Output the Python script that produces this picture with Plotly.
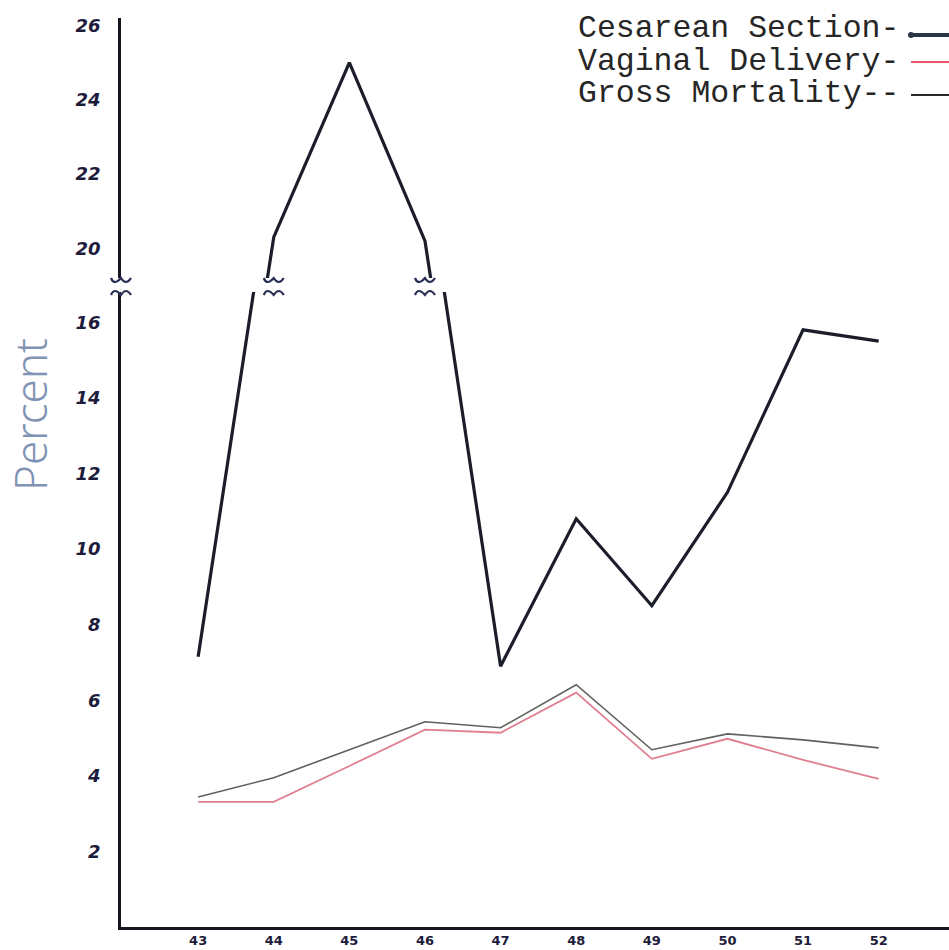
import plotly.graph_objects as go

# ---------------- data ----------------
years = [43, 44, 45, 46, 47, 48, 49, 50, 51, 52]
year_labels = ["43", "44", "45", "46", "47", "48", "49", "50", "51", "52"]
cesarean = [7.15, 20.3, 25.0, 20.2, 6.9, 10.8, 8.5, 11.5, 15.8, 15.5]
vaginal = [3.31, 3.31, 4.26, 5.22, 5.14, 6.20, 4.45, 4.98, 4.42, 3.92]
gross = [3.44, 3.95, 4.69, 5.43, 5.27, 6.41, 4.69, 5.11, 4.95, 4.74]
lower_ticks = [2, 4, 6, 8, 10, 12, 14, 16]
upper_ticks = [20, 22, 24, 26]
break_years = [44, 46]
legend_labels = ["Cesarean Section-", "Vaginal Delivery-", "Gross Mortality--"]

# ---------------- layout constants ----------------
W, H = 949, 950
ML, MR, MT, MB = 121, 0, 0, 23
PW, PH = W - ML - MR, H - MT - MB
XR = [41.98, 52.93]
LOW_R, LOW_D = [0, 16.8], [0, 0.685]
UP_R, UP_D = [19.2, 26.2], [0.700, 0.9806]

C_CES = "#1c1d2b"
C_VAG = "#df7f90"
C_GROSS = "#5f625c"
C_TICK = "#1e1c3c"

fig = go.Figure()

fig.add_trace(go.Scatter(x=years, y=cesarean, mode="lines", xaxis="x", yaxis="y",
                         line=dict(color=C_CES, width=3.2), showlegend=False))
fig.add_trace(go.Scatter(x=years, y=cesarean, mode="lines", xaxis="x", yaxis="y2",
                         line=dict(color=C_CES, width=3.2), showlegend=False))
fig.add_trace(go.Scatter(x=years, y=gross, mode="lines", xaxis="x", yaxis="y",
                         line=dict(color=C_GROSS, width=1.6), showlegend=False))
fig.add_trace(go.Scatter(x=years, y=vaginal, mode="lines", xaxis="x", yaxis="y",
                         line=dict(color=C_VAG, width=1.8), showlegend=False))

tick_font = dict(family="DejaVu Sans", size=18, color=C_TICK, weight="bold", style="italic")

fig.update_layout(
    width=W, height=H,
    margin=dict(l=ML, r=MR, t=MT, b=MB, autoexpand=False),
    paper_bgcolor="white", plot_bgcolor="white",
    xaxis=dict(range=XR, anchor="y", tickvals=years, ticktext=year_labels,
               showline=True, linecolor="#15151f", linewidth=2.5, automargin=False,
               showgrid=False, zeroline=False, ticks="", ticklabelstandoff=0,
               tickfont=dict(family="DejaVu Sans", size=13, color=C_TICK, weight="bold")),
    yaxis=dict(range=LOW_R, domain=LOW_D, anchor="x", tickvals=lower_ticks,
               showline=True, linecolor="#15151f", linewidth=2.5, automargin=False,
               showgrid=False, zeroline=False, ticks="", ticklabelstandoff=14,
               tickfont=tick_font),
    yaxis2=dict(range=UP_R, domain=UP_D, anchor="x", tickvals=upper_ticks,
                showline=True, linecolor="#15151f", linewidth=2.5, automargin=False,
                showgrid=False, zeroline=False, ticks="", ticklabelstandoff=14,
                tickfont=tick_font),
)

# ---------------- axis title ----------------
fig.add_annotation(text="Percent", textangle=-90, showarrow=False,
                   xref="paper", yref="paper", x=(30 - ML) / PW, y=(PH - 415) / PH,
                   xanchor="center", yanchor="middle",
                   font=dict(family="Noto Sans", size=44, color="#8193b4", weight=300))

# ---------------- legend (typed text + line samples) ----------------
leg_y_text = [28, 61, 93]
leg_y_line = [35, 62, 95]
leg_colors = ["#2c3646", "#e8566e", "#2a2a2a"]
leg_widths = [4, 2, 2]
for lab, yt, yl, col, lw in zip(legend_labels, leg_y_text, leg_y_line, leg_colors, leg_widths):
    fig.add_annotation(text=lab, showarrow=False, xref="paper", yref="paper",
                       x=(576 - ML) / PW, y=(PH - yt) / PH, xanchor="left", yanchor="middle",
                       font=dict(family="Liberation Mono", size=31.5, color="#262626"))
    fig.add_shape(type="line", xref="paper", yref="paper",
                  x0=(911 - ML) / PW, x1=1.0, y0=(PH - yl) / PH, y1=(PH - yl) / PH,
                  line=dict(color=col, width=lw))
fig.add_shape(type="circle", xref="paper", yref="paper",
              x0=(908 - ML) / PW, x1=(914 - ML) / PW,
              y0=(PH - 38) / PH, y1=(PH - 32) / PH,
              fillcolor=leg_colors[0], line=dict(width=0))


# ---------------- axis break squiggles ----------------
def px_x(xv):
    return (xv - XR[0]) / (XR[1] - XR[0]) * PW


def squiggle(cx_px, cy_px, up):
    # small hand-drawn wave, in pixel offsets converted to paper coordinates
    d = 5 if up else -5
    def P(dx, dy):
        return f"{(cx_px + dx) / PW:.5f},{(PH - (cy_px + dy)) / PH:.5f}"
    return (f"M {P(-10, 0)} Q {P(-7, d * 1.6)} {P(0, 0)} "
            f"Q {P(5, d * 1.6)} {P(10, 0)}")


break_x_px = [0.0] + [px_x(b) for b in break_years]
for bx in break_x_px:
    fig.add_shape(type="path", xref="paper", yref="paper",
                  path=squiggle(bx, 278, True), line=dict(color="#2a2f55", width=2.2))
    fig.add_shape(type="path", xref="paper", yref="paper",
                  path=squiggle(bx, 295, False), line=dict(color="#2a2f55", width=2.2))

fig.write_html("out.html", config={"displayModeBar": False},
               post_script="document.body.style.margin='0';document.body.style.overflow='hidden';")
